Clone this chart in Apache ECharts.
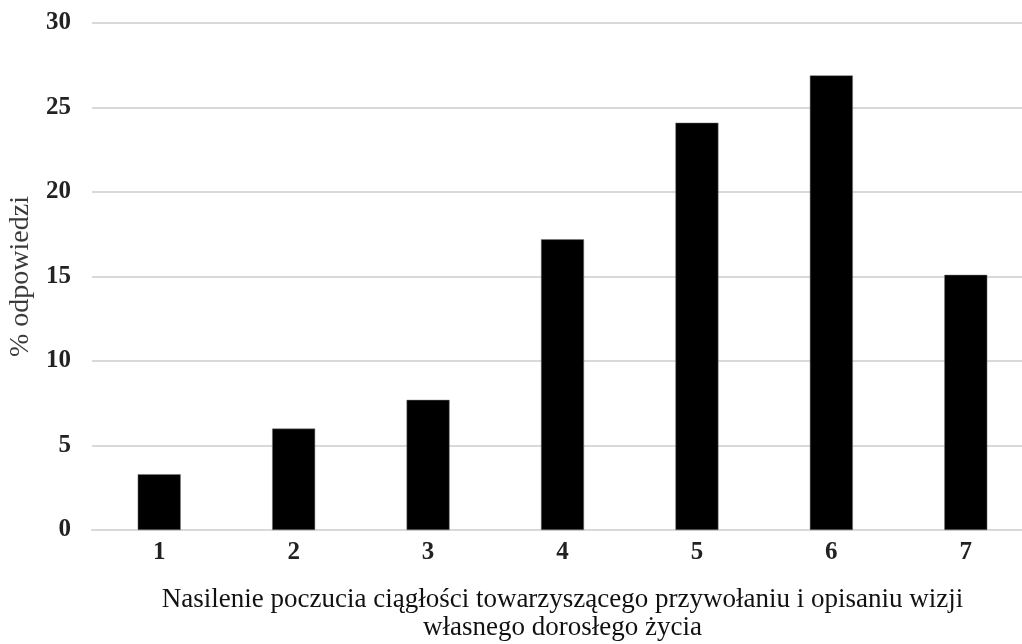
<!DOCTYPE html>
<html><head><meta charset="utf-8">
<script src="https://cdn.jsdelivr.net/npm/echarts@6/dist/echarts.min.js"></script>
<style>html,body{margin:0;padding:0;background:#fff}#c{width:1022px;height:644px}</style>
</head><body><div id="c"></div>
<script>
const categories = ['1','2','3','4','5','6','7'];
const values = [3.3, 6.0, 7.7, 17.2, 24.1, 26.9, 15.1];
const yTicks = [0, 5, 10, 15, 20, 25, 30];
const xName = 'Nasilenie poczucia ciągłości towarzyszącego przywołaniu i opisaniu wizji\nwłasnego dorosłego życia';
const yName = '% odpowiedzi';

const chart = echarts.init(document.getElementById('c'));
const serif = '"Liberation Serif", "DejaVu Serif", serif';
chart.setOption({
  animation: false,
  grid: { left: 92, width: 941, top: 23, height: 507, containLabel: false, outerBoundsMode: 'none' },
  xAxis: {
    type: 'category', data: categories,
    axisLine: { show: true, lineStyle: { color: '#d9d9d9', width: 2 } },
    axisTick: { show: false },
    axisLabel: { fontFamily: serif, fontWeight: 'bold', fontSize: 25, color: '#222', margin: 10 },
    name: xName, nameLocation: 'middle', nameGap: 56,
    nameTextStyle: { fontFamily: serif, fontSize: 27, color: '#111', lineHeight: 28 }
  },
  yAxis: {
    type: 'value', min: yTicks[0], max: yTicks[yTicks.length - 1], interval: 5,
    axisLine: { show: false }, axisTick: { show: false },
    splitLine: { lineStyle: { color: '#d9d9d9', width: 2 } },
    axisLabel: { fontFamily: serif, fontWeight: 'bold', fontSize: 25, color: '#222', margin: 21 },
    name: yName, nameLocation: 'middle', nameGap: 55, nameRotate: 90,
    nameTextStyle: { fontFamily: serif, fontSize: 28, color: '#3a3a3a' }
  },
  series: [{
    type: 'bar', data: values, barWidth: 43,
    itemStyle: { color: '#000', borderColor: '#777', borderWidth: 0.5 }
  }]
});
</script></body></html>
